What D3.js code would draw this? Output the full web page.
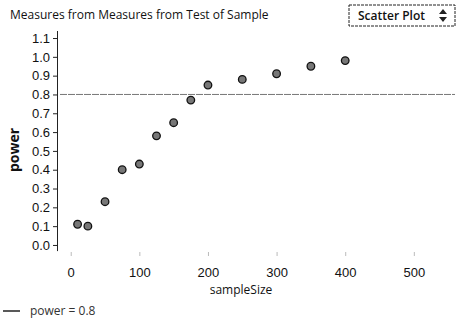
<!DOCTYPE html>
<html>
<head>
<meta charset="utf-8">
<script src="https://cdn.jsdelivr.net/npm/d3@7"></script>
<style>
  body { margin: 0; background: #fff; }
  svg { display: block; font-family: "Open Sans", sans-serif; }
</style>
</head>
<body>
<div id="chart"></div>
<script>
var w = 461
var h = 321

// sample size vs power
var sampleSize = [ 10, 25, 50, 75, 100, 125, 150, 175, 200, 250, 300, 350, 400 ];
var power      = [ 0.11, 0.10, 0.23, 0.40, 0.43, 0.58, 0.65, 0.77, 0.85, 0.88, 0.91, 0.95, 0.98 ];

var refPower = 0.8;
var xTicks = [ 0, 100, 200, 300, 400, 500 ];
var yTicks = [ 0.0, 0.1, 0.2, 0.3, 0.4, 0.5, 0.6, 0.7, 0.8, 0.9, 1.0, 1.1 ];

var x = d3.scaleLinear().domain([-20, 560]).range([57, 455]);
var y = d3.scaleLinear().domain([-0.03, 1.14]).range([250.6, 30.5]);

var svg = d3.select("#chart").append("svg")
    .attr("width", w)
    .attr("height", h);

// title
svg.append("text")
    .attr("x", 10)
    .attr("y", 19)
    .style("font-size", "12px")
    .style("fill", "#111")
    .text("Measures from Measures from Test of Sample");

// "Scatter Plot" selector box
var sel = svg.append("g").attr("transform", "translate(349,5)");
sel.append("rect")
    .attr("width", 106)
    .attr("height", 21)
    .attr("fill", "#fff")
    .attr("stroke", "#222")
    .attr("stroke-dasharray", "3,1");
sel.append("text")
    .attr("x", 9)
    .attr("y", 15)
    .style("font-size", "12px")
    .style("font-weight", "600")
    .style("fill", "#111")
    .text("Scatter Plot");
sel.append("path")
    .attr("d", "M94,4 L98,9 L90,9 Z M94,17 L98,12 L90,12 Z")
    .attr("fill", "#222");

// y axis
var yAxis = svg.append("g")
    .attr("transform", "translate(" + x(-20) + ",0)")
    .call(d3.axisLeft(y).tickValues(yTicks).tickFormat(d3.format(".1f")).tickSize(4).tickSizeOuter(0).tickPadding(3));
yAxis.selectAll("text").style("font-size", "13px").style("fill", "#111");
yAxis.selectAll("line, path").attr("stroke", "#222");

// x axis, faint ticks only
var xAxis = svg.append("g")
    .attr("transform", "translate(0,252)")
    .call(d3.axisBottom(x).tickValues(xTicks).tickSize(4).tickPadding(12));
xAxis.select(".domain").remove();
xAxis.selectAll("line").attr("stroke", "#bbb");
xAxis.selectAll("text").style("font-size", "13px").style("fill", "#111");

// axis titles
svg.append("text")
    .attr("x", 241)
    .attr("y", 294)
    .attr("text-anchor", "middle")
    .style("font-size", "12px")
    .style("fill", "#111")
    .text("sampleSize");

svg.append("text")
    .attr("transform", "translate(19,150) rotate(-90)")
    .attr("text-anchor", "middle")
    .style("font-size", "14px")
    .style("font-weight", "bold")
    .style("fill", "#111")
    .text("power");

// reference line power = 0.8
svg.append("line")
    .attr("x1", x(-20) + 3)
    .attr("x2", x(560))
    .attr("y1", y(refPower))
    .attr("y2", y(refPower))
    .attr("stroke", "#777")
    .attr("stroke-dasharray", "7,1");

// points
svg.selectAll("circle.pt").data(sampleSize).enter()
  .append("circle")
    .attr("class", "pt")
    .attr("cx", function(d) { return x(d); })
    .attr("cy", function(d, i) { return y(power[i]); })
    .attr("r", 3.8)
    .attr("fill", "#777")
    .attr("stroke", "#111")
    .attr("stroke-width", 1.3);

// legend
svg.append("line")
    .attr("x1", 3).attr("x2", 20)
    .attr("y1", 311).attr("y2", 311)
    .attr("stroke", "#222")
    .attr("stroke-width", 1.5);
svg.append("text")
    .attr("x", 30)
    .attr("y", 315)
    .style("font-size", "12px")
    .style("fill", "#333")
    .text("power = " + refPower.toFixed(1));
</script>
</body>
</html>
